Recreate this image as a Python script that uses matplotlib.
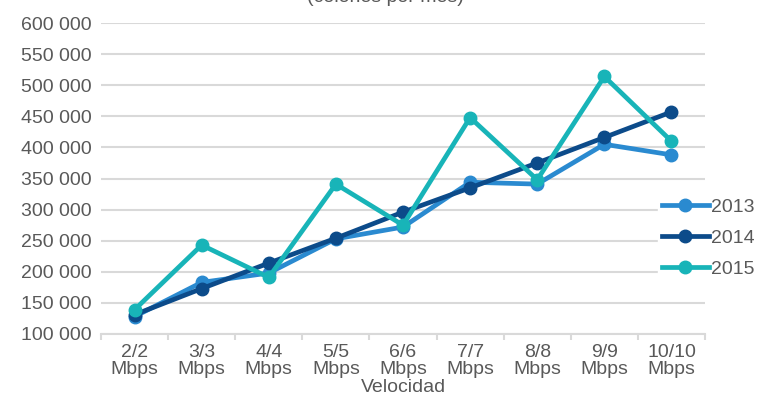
import matplotlib
matplotlib.use("Agg")
import matplotlib.pyplot as plt
from matplotlib.ticker import FuncFormatter, FixedLocator

categories = ["2/2\nMbps", "3/3\nMbps", "4/4\nMbps", "5/5\nMbps", "6/6\nMbps",
              "7/7\nMbps", "8/8\nMbps", "9/9\nMbps", "10/10\nMbps"]
v2013 = [128000, 183000, 198000, 253000, 272000, 344000, 341000, 405000, 388000]
v2014 = [131000, 173000, 214000, 254000, 296000, 335000, 375000, 416000, 457000]
v2015 = [139000, 243000, 191000, 341000, 275000, 448000, 348000, 514000, 410000]

plt.rcParams['font.family'] = ['Liberation Sans', 'DejaVu Sans']
txt = '#595959'
grid = '#d9d9d9'

fig = plt.figure(figsize=(7.61, 4.03), dpi=100)
ax = fig.add_axes([101/761, 1 - 334/403, 604/761, 311/403])

x = list(range(len(categories)))
ax.plot(x, v2013, color='#2a8ad0', lw=3.4, marker='o', ms=9, label='2013', zorder=3)
ax.plot(x, v2014, color='#0c4b8a', lw=3.4, marker='o', ms=9, label='2014', zorder=4)
ax.plot(x, v2015, color='#18b4b8', lw=3.4, marker='o', ms=9, label='2015', zorder=5)

ax.set_xlim(-0.5, len(categories) - 0.5)
ax.set_ylim(100000, 600000)
ax.set_yticks(range(100000, 600001, 50000))
ax.yaxis.set_major_formatter(FuncFormatter(lambda v, p: f"{int(v):,}".replace(",", " ")))
ax.set_xticks(x)
ax.set_xticklabels(categories, linespacing=1.0)
ax.xaxis.set_minor_locator(FixedLocator([i - 0.5 for i in range(len(categories) + 1)]))

ax.tick_params(axis='y', length=0, pad=7, labelsize=14, labelcolor=txt)
ax.tick_params(axis='x', which='major', length=0, pad=7, labelsize=14, labelcolor=txt)
ax.tick_params(axis='x', which='minor', length=4, width=1.5, color=grid)

ax.grid(axis='y', color=grid, lw=1.5)
ax.set_axisbelow(True)
for s in ['top', 'right', 'left']:
    ax.spines[s].set_visible(False)
ax.spines['bottom'].set_color(grid)
ax.spines['bottom'].set_linewidth(1.5)

ax.set_xlabel("Velocidad", fontsize=14, color=txt, labelpad=1)

leg = ax.legend(loc='center left', bbox_to_anchor=(658/761, 1 - 238/403),
                bbox_transform=fig.transFigure, fontsize=14, frameon=True,
                fancybox=False, edgecolor='white', facecolor='white', framealpha=1,
                handlelength=2.4, handletextpad=0.15, labelspacing=0.68,
                borderpad=0.2, borderaxespad=0)
for t in leg.get_texts():
    t.set_color(txt)

fig.text(385/761, 1 - 2.5/403, "(colones por mes)", ha='center', va='baseline',
         fontsize=14, color=txt)

fig.savefig("out.png", dpi=100)
